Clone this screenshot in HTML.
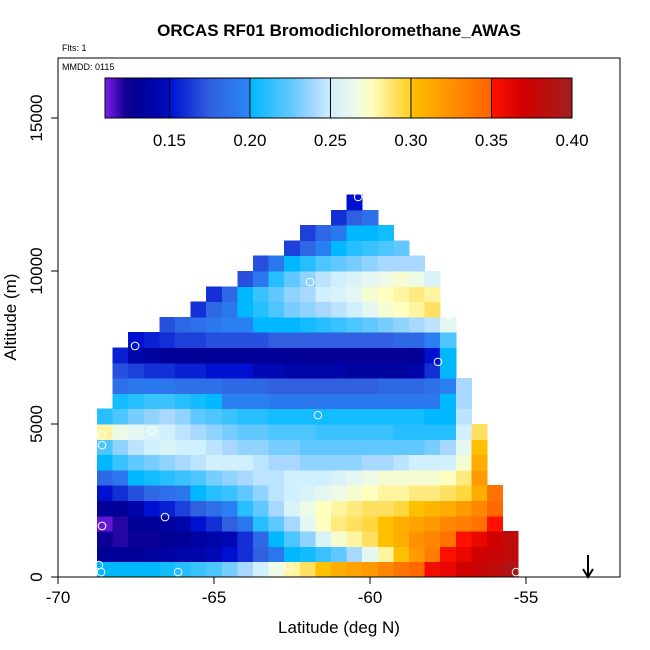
<!DOCTYPE html>
<html><head><meta charset="utf-8"><style>
body{margin:0;background:#fff;}
svg{display:block;font-family:"Liberation Sans",sans-serif;}
</style></head><body>
<svg id="chart" width="650" height="650" viewBox="0 0 650 650">
<text x="339" y="36" text-anchor="middle" font-size="17" font-weight="bold">ORCAS RF01 Bromodichloromethane_AWAS</text>
<text x="62" y="51" font-size="9">Flts: 1</text>
<g id="cells"></g>
<g id="points"></g>
<rect x="58" y="58" width="562" height="519" fill="none" stroke="#000" stroke-width="1"/>
<text x="62" y="70" font-size="9">MMDD: 0115</text>
<g id="cbar"></g>
<g id="xaxis"></g>
<g id="yaxis"></g>
<text x="339" y="633" text-anchor="middle" font-size="17">Latitude (deg N)</text>
<text transform="translate(16,317) rotate(-90)" text-anchor="middle" font-size="17">Altitude (m)</text>
<g>
<line x1="588" y1="555" x2="588" y2="576" stroke="#000" stroke-width="2"/>
<polyline points="583,569 588,577 593,569" fill="none" stroke="#000" stroke-width="2"/>
</g>
</svg>
<script>
const latStart = -68.75, latStep = 0.5;
const altStep = 500;
const xTicks = [-70, -65, -60, -55];
const yTicks = [0, 5000, 10000, 15000];
const cbarTicks = [0.15, 0.20, 0.25, 0.30, 0.35, 0.40];
const N = null;
// rows from 0 m upward, 27 columns from -68.75 in 0.5 deg steps
const grid = [
[.20,.20,.20,.20,.205,.21,.215,.22,.23,.24,.25,.265,.28,.29,.30,.31,.315,.32,.33,.34,.345,.355,.36,.37,.375,.38,.39],
[.13,.13,.13,.135,.135,.14,.14,.145,.15,.16,.175,.19,.20,.205,.215,.225,.24,.26,.28,.30,.32,.335,.35,.36,.37,.375,.38],
[.125,.12,.125,.125,.13,.13,.135,.14,.145,.16,.18,.20,.22,.235,.255,.27,.28,.29,.30,.31,.325,.33,.34,.35,.36,.37,.38],
[.113,.12,.13,.13,.135,.14,.15,.16,.175,.19,.21,.225,.24,.26,.275,.285,.29,.295,.30,.31,.315,.32,.33,.335,.34,.35,N],
[.13,.13,.14,.15,.155,.165,.175,.185,.195,.21,.225,.24,.255,.265,.275,.28,.285,.29,.29,.295,.30,.305,.31,.32,.33,.345,N],
[.15,.16,.17,.18,.185,.19,.20,.21,.215,.225,.235,.245,.25,.255,.26,.265,.27,.275,.28,.28,.285,.285,.29,.295,.31,.34,N],
[.18,.19,.20,.205,.21,.215,.22,.23,.235,.24,.245,.245,.25,.25,.25,.255,.26,.265,.27,.27,.27,.27,.275,.285,.32,N,N],
[.20,.215,.225,.23,.235,.24,.245,.25,.25,.25,.245,.24,.24,.235,.235,.235,.235,.24,.24,.245,.25,.25,.25,.27,.31,N,N],
[.22,.235,.245,.25,.255,.25,.25,.245,.24,.235,.235,.23,.23,.225,.225,.225,.225,.225,.225,.225,.225,.23,.24,.26,.30,N,N],
[.28,.265,.26,.255,.25,.245,.24,.235,.23,.225,.225,.22,.22,.22,.215,.215,.215,.215,.215,.21,.21,.21,.21,.25,.29,N,N],
[.21,.22,.23,.235,.24,.235,.225,.22,.215,.21,.21,.205,.205,.205,.205,.205,.205,.205,.205,.205,.205,.20,.20,.245,N,N,N],
[N,.205,.21,.215,.215,.21,.205,.20,.195,.195,.195,.19,.19,.19,.19,.19,.19,.19,.19,.19,.19,.19,.20,.24,N,N,N],
[N,.185,.19,.19,.19,.185,.185,.185,.18,.18,.18,.175,.175,.175,.175,.175,.175,.175,.18,.18,.18,.185,.195,.24,N,N,N],
[N,.17,.165,.16,.16,.155,.155,.15,.15,.15,.145,.145,.14,.14,.14,.14,.135,.135,.135,.135,.14,.16,.20,N,N,N,N],
[N,.155,.14,.135,.13,.13,.13,.13,.13,.13,.13,.13,.13,.128,.128,.128,.128,.128,.128,.128,.13,.15,.20,N,N,N,N],
[N,N,.15,.155,.16,.165,.165,.17,.17,.17,.17,.175,.175,.175,.175,.175,.175,.175,.175,.18,.18,.195,.22,N,N,N,N],
[N,N,N,N,.17,.18,.185,.19,.195,.195,.20,.20,.20,.205,.21,.215,.22,.225,.23,.235,.24,.245,.26,N,N,N,N],
[N,N,N,N,N,N,.16,.18,.19,.20,.21,.22,.23,.235,.24,.245,.25,.26,.27,.275,.28,.29,N,N,N,N,N],
[N,N,N,N,N,N,N,.16,.18,.20,.215,.225,.235,.24,.25,.255,.26,.27,.275,.28,.285,.28,N,N,N,N,N],
[N,N,N,N,N,N,N,N,N,.17,.19,.21,.225,.235,.245,.25,.255,.26,.265,.27,.265,.255,N,N,N,N,N],
[N,N,N,N,N,N,N,N,N,N,.17,.19,.20,.21,.22,.225,.23,.235,.24,.24,.24,N,N,N,N,N,N],
[N,N,N,N,N,N,N,N,N,N,N,N,.165,.18,.195,.20,.21,.215,.22,.225,N,N,N,N,N,N,N],
[N,N,N,N,N,N,N,N,N,N,N,N,N,.165,.18,.19,.20,.20,.205,N,N,N,N,N,N,N,N],
[N,N,N,N,N,N,N,N,N,N,N,N,N,N,N,.16,.175,.185,N,N,N,N,N,N,N,N,N],
[N,N,N,N,N,N,N,N,N,N,N,N,N,N,N,N,.15,N,N,N,N,N,N,N,N,N,N]
];
const ptLat = [-60.38,-61.92,-57.47,-67.53,-57.82,-61.67,-66.99,-68.59,-68.59,-66.57,-68.59,-68.69,-68.62,-66.15,-62.63,-55.32];
const ptAlt = [12420,9640,8560,7550,7030,5290,4770,4640,4310,1960,1670,390,160,160,330,160];

const NS = "http://www.w3.org/2000/svg";
const xS = lat => 58 + (lat + 70) * 31.2;
const yS = alt => 577 - alt * 0.0306;
const cS = v => 105 + (v - 0.11) / 0.29 * 467;

const stops = [
[0.110,[123,31,232]],[0.122,[20,0,150]],[0.130,[0,0,150]],[0.145,[0,8,180]],[0.150,[0,16,208]],
[0.175,[48,96,224]],[0.1999,[40,136,248]],[0.200,[0,184,255]],[0.225,[96,200,255]],
[0.240,[168,216,255]],[0.250,[208,239,255]],[0.262,[232,248,240]],[0.275,[255,255,192]],
[0.290,[255,224,96]],[0.2999,[255,208,32]],[0.300,[255,192,0]],[0.325,[255,144,0]],
[0.3499,[255,96,0]],[0.350,[255,16,0]],[0.370,[208,0,0]],[0.400,[160,32,32]]];
function color(v){
  if(v<=stops[0][0]) return `rgb(${stops[0][1]})`;
  for(let i=1;i<stops.length;i++){
    if(v<=stops[i][0]){
      const a=stops[i-1],b=stops[i],t=(v-a[0])/(b[0]-a[0]);
      const c=a[1].map((q,k)=>Math.round(q+(b[1][k]-q)*t));
      return `rgb(${c.join(',')})`;
    }
  }
  return `rgb(${stops[stops.length-1][1]})`;
}
function mk(tag, attrs, parent){
  const e=document.createElementNS(NS,tag);
  for(const k in attrs) e.setAttribute(k,attrs[k]);
  parent.appendChild(e); return e;
}
const gc=document.getElementById('cells');
grid.forEach((row,j)=>{
  row.forEach((v,k)=>{
    if(v===null) return;
    const x0=xS(latStart+k*latStep), x1=xS(latStart+(k+1)*latStep);
    const y0=yS((j+1)*altStep), y1=yS(j*altStep);
    const r=mk('rect',{x:x0.toFixed(2),y:y0.toFixed(2),width:(x1-x0+0.5).toFixed(2),height:(y1-y0+0.5).toFixed(2),fill:color(v),'shape-rendering':'crispEdges'},gc);
    
    
  });
});
const gp=document.getElementById('points');
ptLat.forEach((la,i)=>{
  const c=mk('circle',{cx:xS(la),cy:yS(ptAlt[i]),r:3.8,fill:'none',stroke:'#fff','stroke-width':1},gp);
  
  
});
const gb=document.getElementById('cbar');
for(let x=105;x<572;x++){
  const v=0.11+(x-105)/467*0.29;
  mk('rect',{x:x,y:78,width:1.2,height:40,fill:color(v),'shape-rendering':'crispEdges'},gb);
}
mk('rect',{x:105,y:78,width:467,height:40,fill:'none',stroke:'#000','stroke-width':1},gb);
cbarTicks.forEach(t=>{
  const x=cS(t);
  mk('line',{x1:x,y1:78,x2:x,y2:118,stroke:'#000','stroke-width':1},gb);
  const tx=mk('text',{x:x,y:146,'text-anchor':'middle','font-size':17},gb);
  tx.textContent=t.toFixed(2);
  
  
});
const gx=document.getElementById('xaxis');
xTicks.forEach(t=>{
  const x=xS(t);
  mk('line',{x1:x,y1:577,x2:x,y2:584,stroke:'#000'},gx);
  const tx=mk('text',{x:x,y:603,'text-anchor':'middle','font-size':17},gx);
  tx.textContent=t;
  
  
});
const gy=document.getElementById('yaxis');
yTicks.forEach(t=>{
  const y=yS(t);
  mk('line',{x1:51,y1:y,x2:58,y2:y,stroke:'#000'},gy);
  const tx=mk('text',{transform:`translate(42,${y}) rotate(-90)`,'text-anchor':'middle','font-size':17},gy);
  tx.textContent=t;
  
  
});
</script>
</body></html>
